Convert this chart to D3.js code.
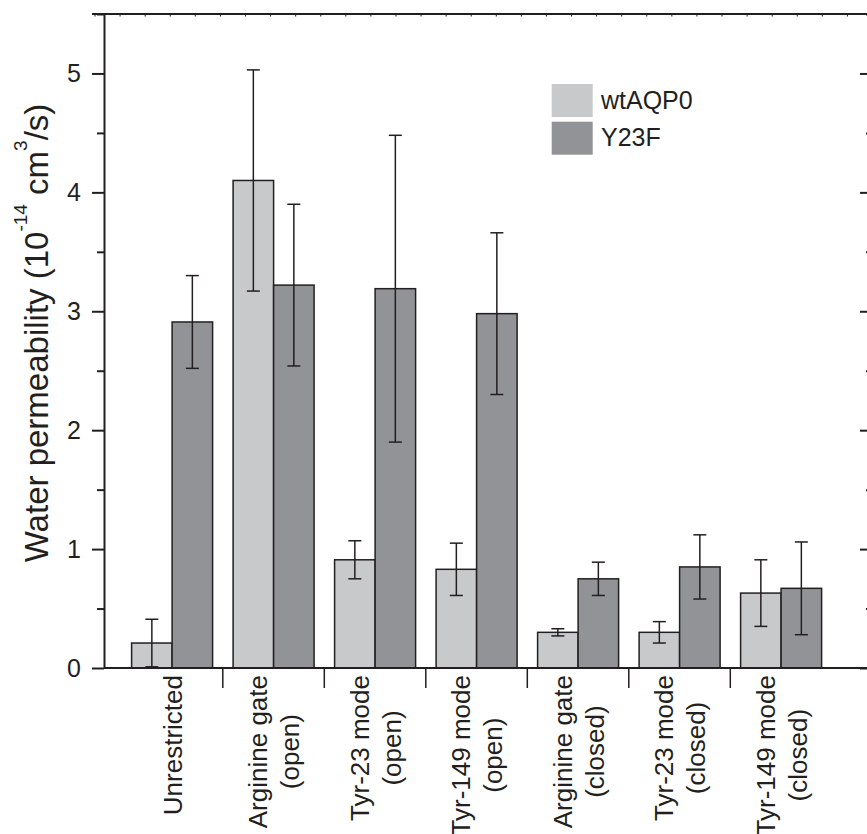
<!DOCTYPE html>
<html>
<head>
<meta charset="utf-8">
<script src="https://cdn.jsdelivr.net/npm/d3@7"></script>
<style>
body { margin: 0; background: #fff; }
svg { display: block; font-family: "Liberation Sans", Arial, sans-serif; }
</style>
</head>
<body>
<div id="chart"></div>
<script>
// categories, '|' splits a label in two lines
const categories = ['Unrestricted', 'Arginine gate|(open)', 'Tyr-23 mode|(open)', 'Tyr-149 mode|(open)',
    'Arginine gate|(closed)', 'Tyr-23 mode|(closed)', 'Tyr-149 mode|(closed)'];
const seriesNames = ['wtAQP0', 'Y23F'];
const wtValues = [0.21, 4.10, 0.91, 0.83, 0.30, 0.30, 0.63];
const wtErrors = [0.20, 0.93, 0.16, 0.22, 0.03, 0.09, 0.28];
const y23fValues = [2.91, 3.22, 3.19, 2.98, 0.75, 0.85, 0.67];
const y23fErrors = [0.39, 0.68, 1.29, 0.68, 0.14, 0.27, 0.39];
const yTicks = [0, 1, 2, 3, 4, 5];
const yMinorTicks = [0.5, 1.5, 2.5, 3.5, 4.5, 5.5];

const values = [wtValues, y23fValues];
const errors = [wtErrors, y23fErrors];
const colors = ['#c8c9cb', '#929397'];
const ink = '#231f20';

const width = 867;
const height = 834;

const svg = d3.select('#chart').append('svg').attr('width', width).attr('height', height);

const y = d3.scaleLinear().domain([0, 5.5]).range([668, 14]);
const x = d3.scaleBand().domain(categories).range([121.3, 831.8]);
const xs = d3.scaleBand().domain(seriesNames).range([10.3, 91.3]);

const bars = categories.map((c, i) => seriesNames.map((s, j) => ({cat: c, series: s, j: j, v: values[j][i], e: errors[j][i]}))).flat();

// bars
svg.append('g').selectAll('rect').data(bars).join('rect')
    .attr('x', d => x(d.cat) + xs(d.series))
    .attr('y', d => y(d.v))
    .attr('width', xs.bandwidth())
    .attr('height', d => y(0) - y(d.v))
    .attr('fill', d => colors[d.j])
    .attr('stroke', ink).attr('stroke-width', 1.5);

// error bars
const err = svg.append('g').attr('stroke', ink).attr('stroke-width', 1.5).selectAll('g').data(bars).join('g')
    .attr('transform', d => `translate(${x(d.cat) + xs(d.series) + xs.bandwidth() / 2},0)`);
err.append('line').attr('y1', d => y(d.v - d.e)).attr('y2', d => y(d.v + d.e));
err.append('line').attr('x1', -6.5).attr('x2', 6.5).attr('y1', d => y(d.v + d.e)).attr('y2', d => y(d.v + d.e));
err.append('line').attr('x1', -6.5).attr('x2', 6.5).attr('y1', d => y(d.v - d.e)).attr('y2', d => y(d.v - d.e));

// left axis
function yAxis(g)
{
    g.attr('transform', 'translate(104,0)')
        .call(d3.axisLeft(y).tickValues(yTicks).tickSize(12).tickSizeOuter(0).tickPadding(11).tickFormat(d3.format('d')))
        .attr('font-size', 25).attr('font-family', null).attr('color', ink);
    g.selectAll('path, line').attr('stroke-width', 2);
}
function yMinor(g)
{
    g.attr('transform', 'translate(104,0)')
        .call(d3.axisLeft(y).tickValues(yMinorTicks).tickSize(7).tickFormat(''))
        .attr('color', ink);
    g.select('.domain').remove();
    g.selectAll('line').attr('stroke-width', 2);
}
// right axis, ticks pointing inward
function yRight(g, vals, size)
{
    g.attr('transform', 'translate(868,0)')
        .call(d3.axisLeft(y).tickValues(vals).tickSize(size).tickFormat(''))
        .attr('color', ink);
    g.select('.domain').remove();
    g.selectAll('line').attr('stroke-width', 2);
}
svg.append('g').call(yAxis);
svg.append('g').call(yMinor);
svg.append('g').call(g => yRight(g, yTicks, 8));
svg.append('g').call(g => yRight(g, yMinorTicks, 2));

// top and bottom frame lines
svg.append('line').attr('x1', 92).attr('x2', width).attr('y1', y(5.5)).attr('y2', y(5.5)).attr('stroke', ink).attr('stroke-width', 2);
svg.append('line').attr('x1', 104).attr('x2', width).attr('y1', y(0)).attr('y2', y(0)).attr('stroke', ink).attr('stroke-width', 2);
const topTick = d3.scaleLinear().domain([0, 31]).range([95, 872.5]);
svg.append('g').selectAll('line').data(d3.range(0, 31)).join('line')
    .attr('x1', d => topTick(d)).attr('x2', d => topTick(d))
    .attr('y1', y(5.5)).attr('y2', y(5.5) + 2.5)
    .attr('stroke', ink).attr('stroke-width', 1);

// separators between categories
svg.append('g').selectAll('line').data(categories.slice(1)).join('line')
    .attr('x1', d => x(d)).attr('x2', d => x(d))
    .attr('y1', y(0)).attr('y2', y(0) + 20)
    .attr('stroke', ink).attr('stroke-width', 1.5);

// category labels, rotated
const labelGroups = svg.append('g').attr('font-size', 26).attr('fill', ink).selectAll('g').data(categories).join('g');
labelGroups.each(function (c) {
    const g = d3.select(this);
    const lines = c.split('|');
    const cx = x(c) + x.bandwidth() / 2;
    const texts = lines.map(t => g.append('text').attr('text-anchor', 'middle').text(t));
    const maxLen = d3.max(texts, t => t.node().getComputedTextLength());
    const mid = y(0) + 7 + maxLen / 2;
    texts.forEach((t, i) => {
        const bx = cx + 9.5 + (i - (lines.length - 1) / 2) * 32;
        t.attr('transform', `translate(${bx},${mid}) rotate(-90)`);
    });
});

// y label
const yLabel = svg.append('text').attr('transform', 'translate(48,333) rotate(-90)')
    .attr('text-anchor', 'middle').attr('font-size', 33).attr('fill', ink);
yLabel.append('tspan').text('Water permeability (10');
yLabel.append('tspan').attr('font-size', 19).attr('dy', -21).text('-14');
yLabel.append('tspan').attr('dy', 21).text(' cm');
yLabel.append('tspan').attr('font-size', 19).attr('dy', -21).text('3');
yLabel.append('tspan').attr('dy', 21).text('/s)');

// legend
const legend = svg.append('g').attr('transform', 'translate(551.7,84)').selectAll('g').data(seriesNames).join('g')
    .attr('transform', (d, i) => `translate(0,${i * 37.7})`);
legend.append('rect').attr('width', 41).attr('height', 33).attr('fill', (d, i) => colors[i]);
legend.append('text').attr('x', 49.3).attr('y', 24.5).attr('font-size', 25).attr('fill', ink).text(d => d);
</script>
</body>
</html>
